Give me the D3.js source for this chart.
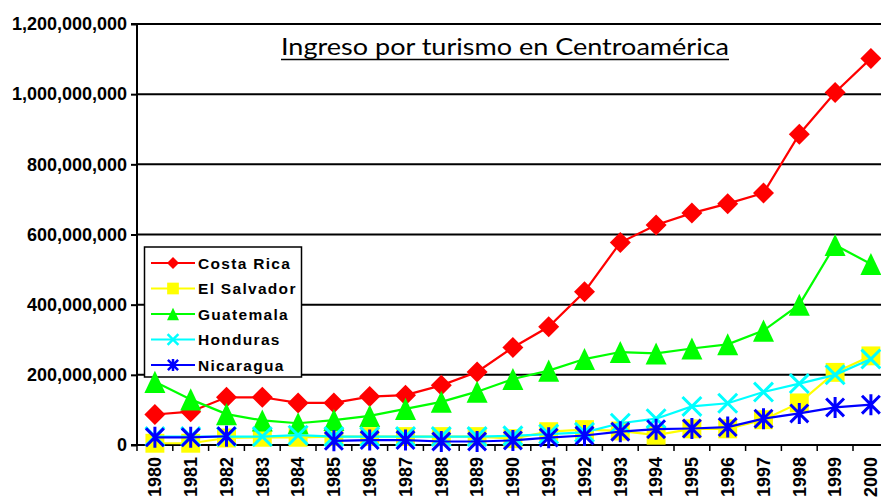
<!DOCTYPE html>
<html>
<head>
<meta charset="utf-8">
<script src="https://cdn.jsdelivr.net/npm/d3@7"></script>
<style>
  html, body { margin: 0; padding: 0; background: #fff; }
  svg { display: block; }
</style>
</head>
<body>
<svg id="chart" width="881" height="503"></svg>
<script>
// ---- Data ----
const years = ["1980","1981","1982","1983","1984","1985","1986","1987","1988","1989","1990",
               "1991","1992","1993","1994","1995","1996","1997","1998","1999","2000"];
const costaRica  = [87,95,136,136,120,120,138,142,170,208,278,337,437,577,627,661,688,718,886,1005,1102].map(v => v*1e6);
const elSalvador = [5,5,20,22,22,24,24,24,24,24,18,38,44,40,28,46,46,72,120,207,254].map(v => v*1e6);
const guatemala  = [180,130,88,70,62,71,83,103,123,152,188,212,245,265,261,275,287,326,400,570,516].map(v => v*1e6);
const honduras   = [24,24,24,24,28,24,24,24,24,24,26,31,36,62,75,110,119,151,175,200,245].map(v => v*1e6);
const nicaragua  = [22,22,25,null,null,12,14,14,10,10,13,21,27,38,45,47,51,75,90,107,115].map(v => v == null ? null : v*1e6);
const yTicks = [0,200000000,400000000,600000000,800000000,1000000000,1200000000];
const seriesNames = ["Costa Rica","El Salvador","Guatemala","Honduras","Nicaragua"];
const seriesColors = ["#ff0000","#ffff00","#00ff00","#00ffff","#0000ff"];
const seriesMarkers = ["diamond","square","triangle","x","star"];
const titleText = "Ingreso por turismo en Centroamérica";

const seriesData = [costaRica, elSalvador, guatemala, honduras, nicaragua];

// ---- Layout ----
const svg = d3.select("#chart");
const plotLeft = 137, plotTop = 24, plotBottom = 445;
const band = 35.8;
const x = d3.scaleBand().domain(years).range([plotLeft, plotLeft + band * years.length]).paddingInner(0).paddingOuter(0);
const y = d3.scaleLinear().domain([0, 1200000000]).range([plotBottom, plotTop]);
const fmt = d3.format(",");

// gridlines
svg.append("g").selectAll("line").data(yTicks.filter(d => d > 0)).join("line")
  .attr("x1", plotLeft).attr("x2", 881)
  .attr("y1", d => y(d)).attr("y2", d => y(d))
  .attr("stroke", "#000").attr("stroke-width", 2);

// y axis
const yAxis = d3.axisLeft(y).tickValues(yTicks).tickFormat(fmt).tickSize(6).tickPadding(4);
const gy = svg.append("g").attr("transform", `translate(${plotLeft},0)`).call(yAxis);
gy.select(".domain").attr("stroke", "#000").attr("stroke-width", 2).attr("d", `M-6,${plotTop}H0V${plotBottom}H-6`);
gy.selectAll(".tick line").attr("stroke", "#000").attr("stroke-width", 2);
gy.selectAll(".tick text")
  .attr("font-family", "Liberation Sans, Arial, sans-serif")
  .attr("font-weight", "bold").attr("font-size", 18).attr("fill", "#000");

// x axis
const xAxis = d3.axisBottom(x).tickSize(0).tickFormat("");
const gx = svg.append("g").attr("transform", `translate(0,${plotBottom})`).call(xAxis);
gx.select(".domain").attr("stroke", "#000").attr("stroke-width", 2).attr("d", `M${plotLeft},0H881`);
// tick marks at category boundaries
svg.append("g").selectAll("line").data(years).join("line")
  .attr("x1", d => x(d)).attr("x2", d => x(d))
  .attr("y1", plotBottom).attr("y2", plotBottom + 6)
  .attr("stroke", "#000").attr("stroke-width", 1.5);
svg.append("g").selectAll("text").data(years).join("text")
  .attr("transform", d => `translate(${x(d) + x.bandwidth()/2},${plotBottom + 12}) rotate(-90)`)
  .attr("text-anchor", "end").attr("dy", "0.35em")
  .attr("font-family", "Liberation Sans, Arial, sans-serif")
  .attr("font-weight", "bold").attr("font-size", 18).attr("fill", "#000")
  .text(d => d);

// title
svg.append("text")
  .attr("x", 281).attr("y", 55)
  .attr("font-family", "Lato, Open Sans, sans-serif").attr("font-size", 24)
  .attr("textLength", 448).attr("lengthAdjust", "spacingAndGlyphs")
  .attr("fill", "#000").text(titleText);
svg.append("line").attr("x1", 281).attr("x2", 729).attr("y1", 59.5).attr("y2", 59.5)
  .attr("stroke", "#000").attr("stroke-width", 1.5);

// legend
const lg = svg.append("g");
lg.append("rect").attr("x", 144.5).attr("y", 247).attr("width", 157).attr("height", 130)
  .attr("fill", "#fff").attr("stroke", "#000").attr("stroke-width", 1.5);

function drawMarker(g, type, cx, cy, s, color) {
  const h = s / 2;
  if (type === "diamond") {
    g.append("path").attr("d", `M${cx},${cy-h}L${cx+h},${cy}L${cx},${cy+h}L${cx-h},${cy}Z`).attr("fill", color);
  } else if (type === "square") {
    const q = h * 0.9;
    g.append("rect").attr("x", cx-q).attr("y", cy-q).attr("width", 2*q).attr("height", 2*q).attr("fill", color);
  } else if (type === "triangle") {
    g.append("path").attr("d", `M${cx},${cy-h*1.05}L${cx+h},${cy+h*1.05}L${cx-h},${cy+h*1.05}Z`).attr("fill", color);
  } else if (type === "x") {
    const q = h * 0.9;
    g.append("path").attr("d", `M${cx-q},${cy-q}L${cx+q},${cy+q}M${cx-q},${cy+q}L${cx+q},${cy-q}`)
      .attr("stroke", color).attr("stroke-width", s > 14 ? 3 : 2.5).attr("fill", "none");
  } else if (type === "star") {
    const q = h * 0.85;
    g.append("path").attr("d", `M${cx-q},${cy-q}L${cx+q},${cy+q}M${cx-q},${cy+q}L${cx+q},${cy-q}M${cx},${cy-h}L${cx},${cy+h}`)
      .attr("stroke", color).attr("stroke-width", s > 14 ? 3 : 2.5).attr("fill", "none");
  }
}

const legendY0 = 263, legendStep = 25.5;
seriesNames.forEach((name, i) => {
  const yy = legendY0 + i * legendStep;
  lg.append("line").attr("x1", 151).attr("x2", 195).attr("y1", yy).attr("y2", yy)
    .attr("stroke", seriesColors[i]).attr("stroke-width", 2);
  drawMarker(lg, seriesMarkers[i], 173, yy, seriesMarkers[i] === "square" ? 13 : 12, seriesColors[i]);
  lg.append("text").attr("x", 198).attr("y", yy).attr("dy", "0.36em")
    .attr("font-family", "Liberation Sans, Arial, sans-serif").attr("font-weight", "bold")
    .attr("font-size", 15.5).attr("letter-spacing", 1.3).attr("fill", "#000").text(name);
});

// series
const cxOf = d => x(d) + x.bandwidth() / 2;
seriesData.forEach((vals, i) => {
  const g = svg.append("g");
  const pts = years.map((yr, j) => ({ yr, v: vals[j] }));
  const line = d3.line().defined(d => d.v != null).x(d => cxOf(d.yr)).y(d => y(d.v));
  g.append("path").attr("d", line(pts)).attr("fill", "none")
    .attr("stroke", seriesColors[i]).attr("stroke-width", 2.2);
  pts.filter(d => d.v != null).forEach(d => {
    drawMarker(g, seriesMarkers[i], cxOf(d.yr), y(d.v), 21, seriesColors[i]);
  });
});
</script>
</body>
</html>
